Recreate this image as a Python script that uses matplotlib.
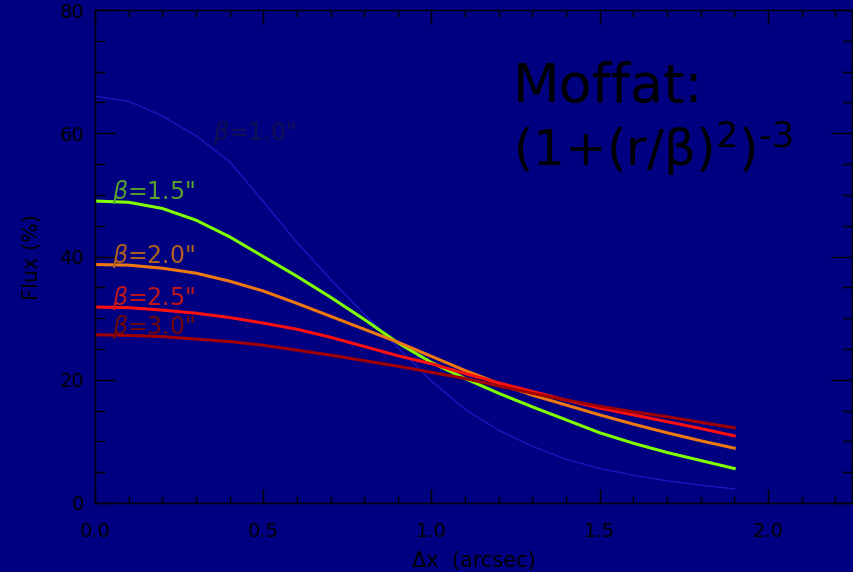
import numpy as np
import matplotlib
matplotlib.use('Agg')
import matplotlib.pyplot as plt
from matplotlib.ticker import MultipleLocator

# 位置 (arcsec)
dx = [0.0, 0.1, 0.2, 0.3, 0.4, 0.5, 0.6, 0.7, 0.8, 0.9,
      1.0, 1.1, 1.2, 1.3, 1.4, 1.5, 1.6, 1.7, 1.8, 1.9]

# 各 beta 的通量 (%)
flux_b10 = [66.0, 65.2, 62.8, 59.6, 55.4, 48.9, 42.3, 36.3, 30.7, 25.2,
            19.8, 15.2, 11.8, 9.2, 7.1, 5.6, 4.5, 3.6, 2.9, 2.3]
flux_b15 = [49.0, 48.8, 47.8, 45.9, 43.2, 40.0, 36.8, 33.4, 29.8, 26.0,
            22.8, 20.2, 17.8, 15.6, 13.5, 11.4, 9.7, 8.2, 6.9, 5.6]
flux_b20 = [38.7, 38.6, 38.1, 37.3, 36.0, 34.4, 32.4, 30.3, 28.2, 26.1,
            23.8, 21.5, 19.4, 17.5, 15.9, 14.3, 12.8, 11.4, 10.1, 8.9]
flux_b25 = [31.8, 31.7, 31.3, 30.8, 30.1, 29.2, 28.2, 26.9, 25.4, 23.9,
            22.6, 21.0, 19.5, 18.1, 16.7, 15.4, 14.3, 13.2, 12.1, 10.9]
flux_b30 = [27.3, 27.2, 27.0, 26.6, 26.2, 25.6, 24.8, 24.0, 23.1, 22.2,
            21.2, 20.2, 19.0, 17.8, 16.7, 15.7, 14.8, 14.0, 13.1, 12.2]

labels = ['1.0', '1.5', '2.0', '2.5', '3.0']
line_colors = ['#1818c0', '#80ff00', '#f07810', '#ff1010', '#a00000']
text_colors = ['#101050', '#58a030', '#b06020', '#c01818', '#700808']

bg = '#000080'
plt.rcParams['font.family'] = ['DejaVu Sans']

fig = plt.figure(figsize=(8.54, 5.72), dpi=100, facecolor=bg)
ax = fig.add_axes([95 / 854, 69 / 572, 757 / 854, 493 / 572])
ax.set_facecolor(bg)

# 绘制曲线
series = [flux_b10, flux_b15, flux_b20, flux_b25, flux_b30]
widths = [1.0, 2.2, 2.2, 2.2, 2.2]
for ys, c, w in zip(series, line_colors, widths):
    ax.plot(dx, ys, color=c, lw=w)

# 曲线标注
label_pos = [(0.35, 60.0), (0.05, 50.5), (0.05, 40.1), (0.05, 33.3), (0.05, 28.6)]
for lab, (tx, ty), c in zip(labels, label_pos, text_colors):
    ax.text(tx, ty, r'$\beta$=' + lab + '"', color=c, fontsize=17,
            ha='left', va='center')

# Moffat 公式
ax.text(1.241, 65.1, 'Moffat:', fontsize=39, color='black', va='baseline')
ax.text(1.241, 54.7, '(1+(r/β)$^2$)$^{\u2010 3}$', fontsize=36, color='black',
        va='baseline')

ax.set_xlim(0, 2.25)
ax.set_ylim(0, 80)
ax.xaxis.set_major_locator(MultipleLocator(0.5))
ax.xaxis.set_minor_locator(MultipleLocator(0.1))
ax.yaxis.set_major_locator(MultipleLocator(20))
ax.yaxis.set_minor_locator(MultipleLocator(5))
ax.xaxis.set_major_formatter(matplotlib.ticker.FormatStrFormatter('%.1f'))

ax.tick_params(axis='x', which='major', direction='in', length=10, width=1,
               top=True, pad=14, labelsize=14, colors='black')
ax.tick_params(axis='x', which='minor', direction='in', length=5, width=1,
               top=True, colors='black')
ax.tick_params(axis='y', which='major', direction='in', length=15, width=1,
               right=True, pad=8, labelsize=14, colors='black')
ax.tick_params(axis='y', which='minor', direction='in', length=7, width=1,
               right=True, colors='black')
for sp in ax.spines.values():
    sp.set_color('black')
    sp.set_linewidth(1.0)

ax.set_xlabel('Δx  (arcsec)', fontsize=15, color='black')
ax.set_ylabel('Flux (%)', fontsize=15, color='black')
ax.xaxis.set_label_coords(0.5, -0.097)
ax.yaxis.set_label_coords(-0.07, 0.5)

fig.savefig('out.png', dpi=100, facecolor=bg)
